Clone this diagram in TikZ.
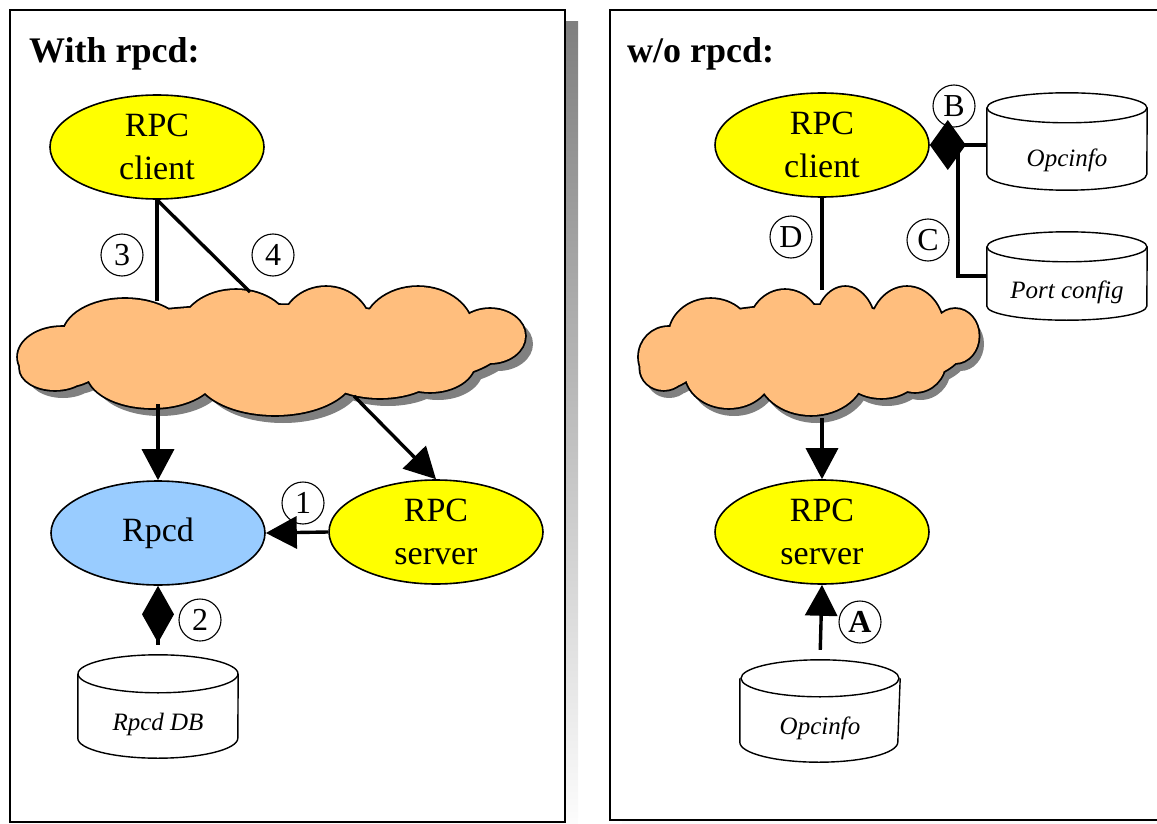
\documentclass[tikz,border=0pt]{standalone}
\usepackage{fontspec}
\setmainfont{Liberation Serif}
\usetikzlibrary{shapes.geometric,arrows.meta}
\definecolor{cloudfill}{RGB}{255,190,125}
\definecolor{shade}{RGB}{128,128,128}
\definecolor{rpcdblue}{RGB}{153,204,255}
\definecolor{pureyellow}{RGB}{255,255,0}
\newcommand\cylinderdraw[4]{% node, half width, top ry, bottom ry
  \draw[line width=1.4pt] ([yshift=-#3pt]#1.north) ellipse [x radius=#2pt, y radius=#3pt];
  \draw[line width=1.4pt] ([yshift=-#3pt]#1.north west) -- ([yshift=#4pt]#1.south west)
    arc[start angle=180, end angle=360, x radius=#2pt, y radius=#4pt] -- ([yshift=-#3pt]#1.north east);
}
\newcommand\cloudlobes{
  (62,357) ellipse [x radius=44, y radius=30]
  (125,336) ellipse [x radius=62, y radius=37]
  (236,331) ellipse [x radius=55, y radius=41]
  (326,329) ellipse [x radius=45, y radius=42]
  (418,331) ellipse [x radius=55, y radius=44]
  (490,336) ellipse [x radius=35, y radius=27]
  (430,362) ellipse [x radius=45, y radius=30]
  (380,368) ellipse [x radius=60, y radius=30]
  (275,372) ellipse [x radius=80, y radius=43]
  (152,372) ellipse [x radius=65, y radius=36]
  (55,368) ellipse [x radius=35, y radius=22]
  (270,350) ellipse [x radius=230, y radius=45]}
\newcommand\cloudpicture{%
  \begin{scope}[shift={(8,8)}]\path[fill=shade] \cloudlobes;\end{scope}
  \path[draw, line width=3.6pt] \cloudlobes;
  \path[fill=cloudfill] \cloudlobes;}
\begin{document}
\begin{tikzpicture}[x=1pt,y=-1pt,
  every node/.style={inner sep=0pt},
  title/.style={font=\bfseries\fontsize{36}{40}\selectfont, anchor=base west},
  oval/.style={ellipse, draw, line width=1.6pt, minimum width=214pt, minimum height=104pt, align=center, font=\fontsize{34}{43}\selectfont},
  yel/.style={oval, fill=pureyellow},
  num/.style={circle, draw, line width=1.1pt, minimum size=42pt, font=\fontsize{32}{32}\selectfont},
  dbbody/.style={minimum width=160pt},
  dbtext/.style={font=\itshape\fontsize{25}{25}\selectfont},
  link/.style={line width=3.4pt},
  arr/.style={link, -{Triangle[length=31pt,width=32pt]}},
  frame/.style={draw, line width=2pt, fill=white},
]
\useasboundingbox (0,0) rectangle (1157,824);
\clip (0,0) rectangle (1157,824);

% panels
\fill[shade] (22,22) rectangle (578,840);
\draw[frame] (10,10) rectangle (565,822);
\fill[shade] (622,22) rectangle (1190,840);
\draw[frame] (610,10) rectangle (1180,820);

\node[title] (t1) at (29,63) {With rpcd:};
\node[title] (t2) at (627,63) {w/o rpcd:};

% ---------- left: with rpcd ----------
\cloudpicture
\node (net1) at (270,351) {};

\node[yel] (cl1) at (157,147) {RPC\\client};
\node[oval, fill=rpcdblue] (rpcd) at (158,533) {Rpcd};
\node[yel] (sv1) at (436,532) {RPC\\server};
\node[dbbody, minimum height=103pt] (db1) at (158,706.5) {};
\cylinderdraw{db1}{80}{19}{20}
\node[dbtext] (db1t) at (158,724) {Rpcd DB};

\coordinate (n1a) at (159,301);
\coordinate (n1b) at (250,292);
\coordinate (n1c) at (158,404);
\coordinate (n1d) at (354,396);
\draw[link] (cl1.south) -- (cl1.south |- n1a);
\draw[link] (cl1.south) -- (n1b);
\draw[arr] (n1c) -- (rpcd.north);
\draw[arr] (n1d) -- (sv1.north);
\draw[arr] (sv1.west) -- (rpcd.east);
\draw[link, -{Diamond[length=57pt,width=32pt]}, shorten <=10pt] (db1.north) -- (rpcd.south);

\node[num] (l3) at (122,255) {3};
\node[num] (l4) at (273,255) {4};
\node[num] (l1) at (303,503) {1};
\node[num] (l2) at (200,620) {2};

% ---------- right: without rpcd ----------
\begin{scope}[shift={(626.9,0)}, xscale=0.67]
  \cloudpicture
\end{scope}
\node (net2) at (809,351) {};

\node[yel] (cl2) at (822,145) {RPC\\client};
\node[yel] (sv2) at (822,532) {RPC\\server};

\node[dbbody, minimum height=97pt] (opc1) at (1067,141.5) {};
\cylinderdraw{opc1}{80}{15}{16}
\node[dbtext] (opc1t) at (1067,160) {Opcinfo};

\node[dbbody, minimum height=88pt] (port) at (1067,276) {};
\cylinderdraw{port}{80}{15}{14}
\node[dbtext] (portt) at (1067,292) {Port config};

\node[dbbody, minimum height=102pt] (opc2) at (820,711) {};
\cylinderdraw{opc2}{79}{18.5}{20}
\node[dbtext] (opc2t) at (820,728) {Opcinfo};

\coordinate (n2a) at (823,290);
\coordinate (n2b) at (822,418);
\coordinate (bj) at (958,150);
\draw[link] (cl2.south) -- (cl2.south |- n2a);
\draw[arr] (n2b) -- (sv2.north);
\draw[arr, shorten <=10pt] (opc2.north) -- (sv2.south);
\draw[link] (port.west) -| (bj);
\draw[link, -{Diamond[length=36pt,width=50pt]}] (opc1.west |- cl2.east) -- (cl2.east);

\node[num] (ld) at (791,237) {D};
\node[num] (lc) at (928,240) {C};
\node[num] (lb) at (954,106) {B};
\node[num, font=\bfseries\fontsize{32}{32}\selectfont] (la) at (860,622) {A};
\end{tikzpicture}
\end{document}
